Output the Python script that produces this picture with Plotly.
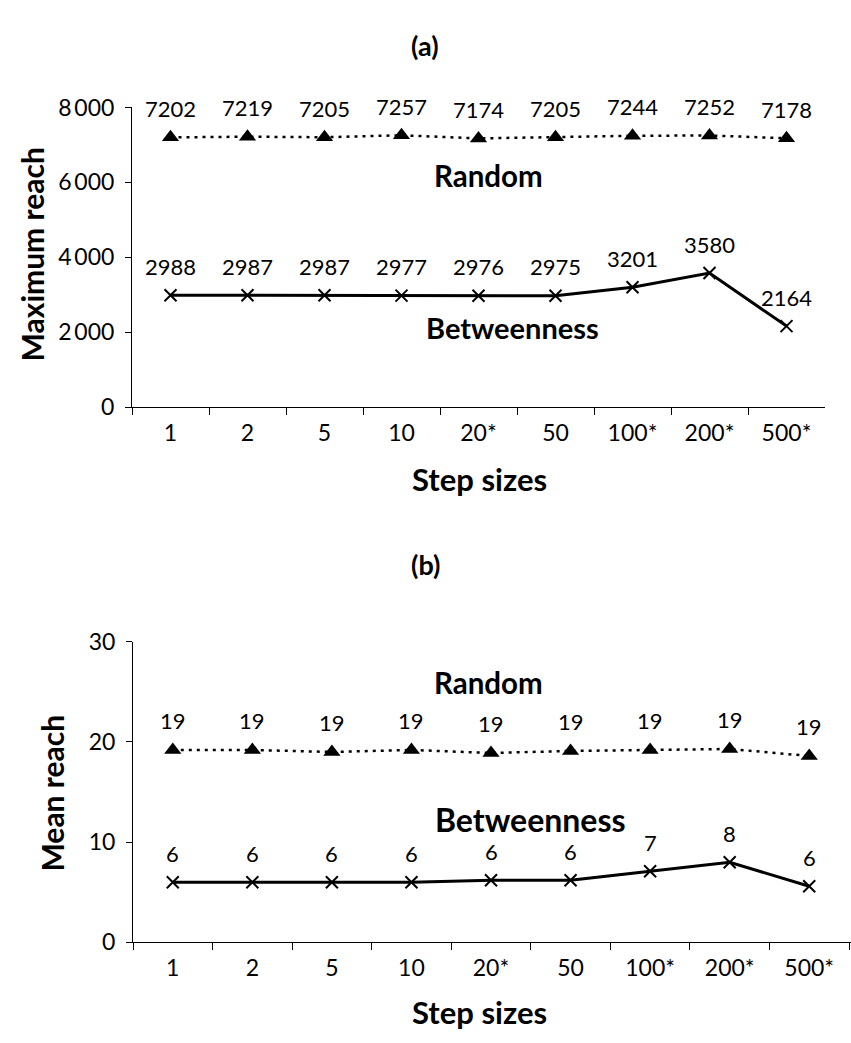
import plotly.graph_objects as go

# Step sizes on the x axis (categories)
steps = ["1", "2", "5", "10", "20*", "50", "100*", "200*", "500*"]

# (a) Maximum reach
max_random = [7202, 7219, 7205, 7257, 7174, 7205, 7244, 7252, 7178]
max_betweenness = [2988, 2987, 2987, 2977, 2976, 2975, 3201, 3580, 2164]

# (b) Mean reach
mean_random = [19.2, 19.2, 19.0, 19.2, 18.9, 19.1, 19.2, 19.3, 18.6]
mean_betweenness = [6.0, 6.0, 6.0, 6.0, 6.2, 6.2, 7.1, 8.0, 5.6]

# y-axis tick labels
max_ticks = [0, 2000, 4000, 6000, 8000]
max_ticktext = ["0", "2\u2009000", "4\u2009000", "6\u2009000", "8\u2009000"]
mean_ticks = [0, 10, 20, 30]

W, H = 851, 1043
FONT = "Lato, 'Open Sans', sans-serif"
TICK_FONT = dict(family=FONT, size=23, color="black")
LABEL_FONT = dict(family=FONT, size=22, color="black")


def px_x(p):
    return p / W


def px_y(p):
    return 1 - p / H


random_line = dict(color="black", width=2.5, dash="3px,5px")
random_marker = dict(symbol="triangle-up", size=15, color="black")
betw_line = dict(color="black", width=3)
betw_marker = dict(symbol="x-thin-open", size=12, color="black",
                   line=dict(color="black", width=2))

fig = go.Figure()
fig.add_trace(go.Scatter(x=steps, y=max_random, mode="lines+markers",
                         line=random_line, marker=random_marker,
                         xaxis="x", yaxis="y", name="Random"))
fig.add_trace(go.Scatter(x=steps, y=max_betweenness, mode="lines+markers",
                         line=betw_line, marker=betw_marker,
                         xaxis="x", yaxis="y", name="Betweenness"))
fig.add_trace(go.Scatter(x=steps, y=mean_random, mode="lines+markers",
                         line=random_line, marker=random_marker,
                         xaxis="x2", yaxis="y2", name="Random"))
fig.add_trace(go.Scatter(x=steps, y=mean_betweenness, mode="lines+markers",
                         line=betw_line, marker=betw_marker,
                         xaxis="x2", yaxis="y2", name="Betweenness"))

annotations = []

# value labels above each point (category index positions on the axis)
for ys, xr, yr in [
    (max_random, "x", "y"),
    (max_betweenness, "x", "y"),
    (mean_random, "x2", "y2"),
    (mean_betweenness, "x2", "y2"),
]:
    for i, yv in enumerate(ys):
        annotations.append(dict(x=i, y=yv, xref=xr, yref=yr,
                                text=f"{yv:.0f}", showarrow=False,
                                yshift=29, font=LABEL_FONT))


def text(x, y, s, size, angle=0, bold=True):
    annotations.append(dict(
        x=px_x(x), y=px_y(y), xref="paper", yref="paper",
        text=f"<b>{s}</b>" if bold else s, showarrow=False,
        textangle=angle, xanchor="center", yanchor="middle",
        font=dict(family=FONT, size=size, color="black")))


# panel titles
text(425, 31, "(a)", 27)
text(425, 565, "(b)", 27)

# axis titles
text(32, 246, "Maximum reach", 30, angle=-90)
text(479, 477, "Step sizes", 31)
text(52, 800, "Mean reach", 30, angle=-90)
text(479, 1024, "Step sizes", 31)

# series names
text(488, 165, "Random", 29.5)
text(512, 321, "Betweenness", 29)
text(488, 686, "Random", 29.5)
text(530, 827, "Betweenness", 32)

common_x = dict(type="category", showline=True, linecolor="black", linewidth=1,
                ticks="outside", ticklen=7, tickcolor="black", tickwidth=1,
                tickson="boundaries", showgrid=False, zeroline=False,
                tickfont=TICK_FONT, ticklabelstandoff=5, fixedrange=True)
common_y = dict(showline=True, linecolor="black", linewidth=1,
                ticks="outside", ticklen=6, tickcolor="black", tickwidth=1,
                showgrid=False, zeroline=False, tickfont=TICK_FONT,
                ticklabelstandoff=6, fixedrange=True)

fig.update_layout(
    width=W, height=H,
    margin=dict(l=0, r=0, t=0, b=0),
    paper_bgcolor="white", plot_bgcolor="white",
    showlegend=False,
    xaxis=dict(domain=[px_x(132), px_x(825)], anchor="y",
               range=[-0.5, 8.5], **common_x),
    yaxis=dict(domain=[px_y(403), px_y(95)], anchor="x",
               range=[0, 8000], tickvals=max_ticks, ticktext=max_ticktext,
               **common_y),
    xaxis2=dict(domain=[px_x(133), 1.0], anchor="y2",
                range=[-0.5, 8.525], **common_x),
    yaxis2=dict(domain=[px_y(953), px_y(644)], anchor="x2",
                range=[0, 30], tickvals=mean_ticks, **common_y),
    annotations=annotations,
)

fig.write_html("out.html")
